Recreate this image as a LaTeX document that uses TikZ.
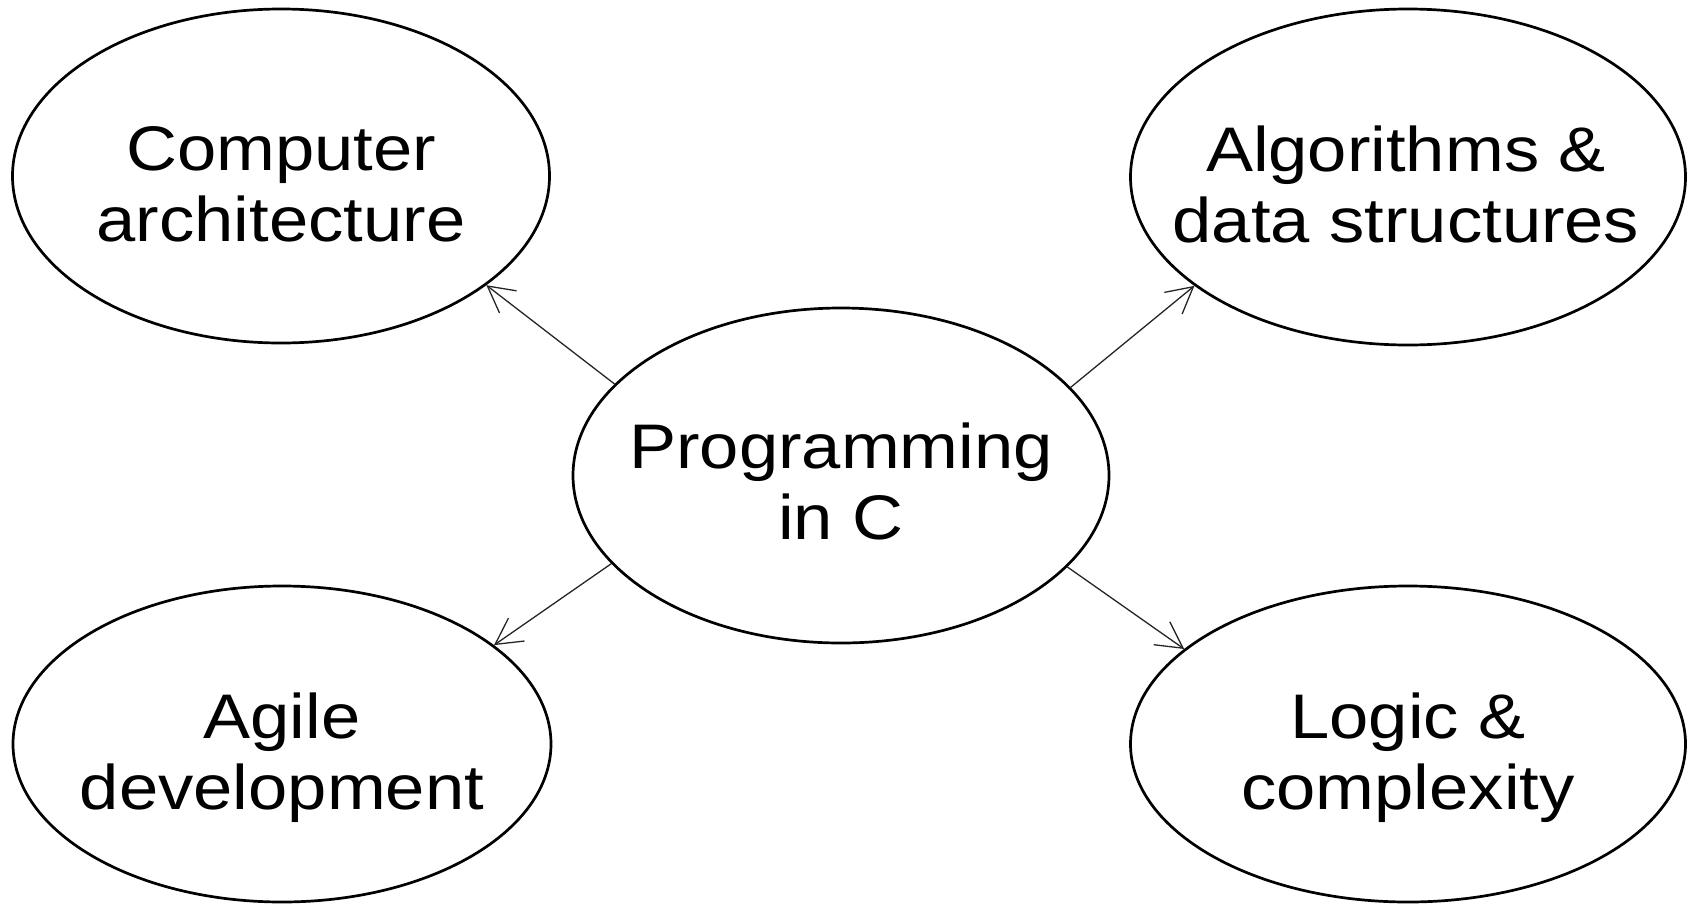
\documentclass[tikz,border=0pt]{standalone}
\usepackage{fontspec}
\setmainfont{Liberation Sans}[FakeStretch=1.12]
\usetikzlibrary{shapes.geometric,arrows.meta}
\begin{document}
\begin{tikzpicture}[x=1pt,y=1pt,
  bubble/.style={ellipse,draw=black,line width=2.7pt,inner sep=0pt},
  label text/.style={align=center,inner sep=0pt,font=\fontsize{63}{71}\selectfont},
  link/.style={draw=black!85,line width=1.3pt,-{Straight Barb[length=26pt,width=28pt,line width=1.3pt]}}]
\useasboundingbox[fill=white] (0,0) rectangle (1692,-905);
% ellipses
\node[bubble,minimum width=537pt,minimum height=334pt] (tl) at (281,-176) {};
\node[bubble,minimum width=555pt,minimum height=336pt] (tr) at (1408,-177) {};
\node[bubble,minimum width=536pt,minimum height=335pt] (c) at (841,-475.5) {};
\node[bubble,minimum width=538pt,minimum height=316pt] (bl) at (282,-744) {};
\node[bubble,minimum width=555pt,minimum height=316pt] (br) at (1408,-744) {};
% texts
\node[label text] (tlt) at (281,-184) {Computer\\architecture};
\node[label text] (trt) at (1406,-184) {Algorithms \&\\data structures};
\node[label text] (ct) at (841,-481) {Programming\\in C};
\node[label text] (blt) at (282,-758) {Agile\\development};
\node[label text] (brt) at (1408,-758) {Logic \&\\complexity};
% connectors
\draw[link] (c.158.8) -- (tl.332);
\draw[link] (c.21.0) -- (tr.207);
\draw[link] (c.201.6) -- (bl.25.5);
\draw[link] (c.338.3) -- (br.157.3);
\end{tikzpicture}
\end{document}
